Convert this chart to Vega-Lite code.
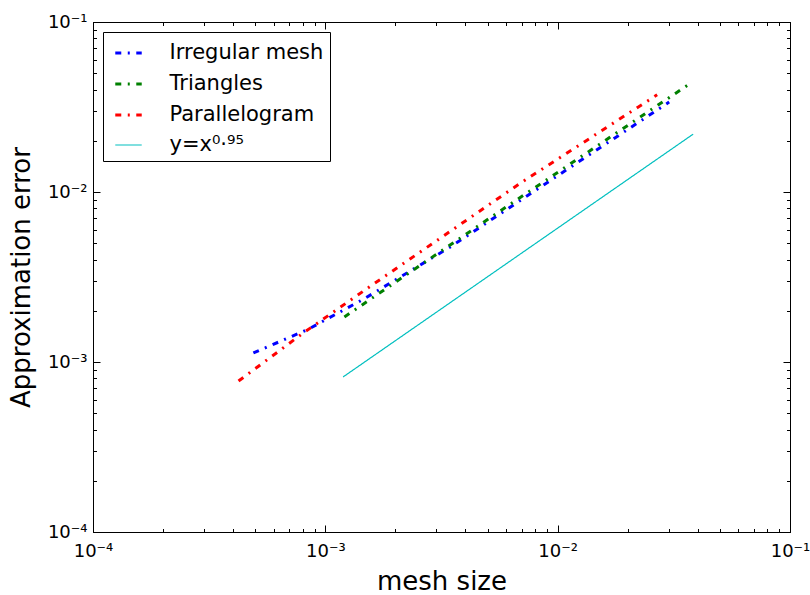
{
  "$schema": "https://vega.github.io/schema/vega-lite/v6.json",
  "width": 697,
  "height": 510,
  "autosize": {"type": "none"},
  "padding": {"left": 93, "top": 22, "right": 20, "bottom": 63},
  "background": "white",
  "config": {
    "view": {"stroke": "black", "strokeWidth": 1},
    "font": "DejaVu Sans",
    "axis": {
      "labelFont": "DejaVu Sans",
      "labelFontSize": 18,
      "labelColor": "black",
      "titleFont": "DejaVu Sans",
      "titleFontSize": 26,
      "titleFontWeight": "normal",
      "titleColor": "black",
      "domainColor": "black",
      "tickColor": "black",
      "grid": false,
      "labelOverlap": false,
      "labelFlush": false,
      "labelBound": false
    },
    "legend": {
      "labelFont": "DejaVu Sans",
      "labelFontSize": 21,
      "labelColor": "black"
    }
  },
  "data": {
    "values": [
      {"series": "Irregular mesh", "h": 0.00049, "err": 0.00113},
      {"series": "Irregular mesh", "h": 0.000845, "err": 0.00156},
      {"series": "Irregular mesh", "h": 0.001442, "err": 0.00232},
      {"series": "Irregular mesh", "h": 0.00345, "err": 0.00475},
      {"series": "Irregular mesh", "h": 0.00937, "err": 0.01177},
      {"series": "Irregular mesh", "h": 0.0302, "err": 0.0338},
      {"series": "Triangles", "h": 0.001208, "err": 0.00184},
      {"series": "Triangles", "h": 0.001866, "err": 0.00276},
      {"series": "Triangles", "h": 0.006, "err": 0.00817},
      {"series": "Triangles", "h": 0.0375, "err": 0.0438},
      {"series": "Parallelogram", "h": 0.000423, "err": 0.000773},
      {"series": "Parallelogram", "h": 0.000803, "err": 0.00148},
      {"series": "Parallelogram", "h": 0.001545, "err": 0.00276},
      {"series": "Parallelogram", "h": 0.00682, "err": 0.01114},
      {"series": "Parallelogram", "h": 0.0268, "err": 0.0373},
      {"series": "y=x⁰·⁹⁵", "h": 0.001193, "err": 0.000817},
      {"series": "y=x⁰·⁹⁵", "h": 0.0383, "err": 0.0219}
    ]
  },
  "layer": [
    {
      "mark": {"type": "line", "clip": true},
      "encoding": {
        "x": {
          "field": "h", "type": "quantitative",
          "scale": {"type": "log", "domain": [0.0001, 0.1], "nice": false},
          "axis": {
            "orient": "bottom",
            "title": "mesh size",
            "values": [0.0001,0.0002,0.0003,0.0004,0.0005,0.0006,0.0007,0.0008,0.0009,0.001,0.002,0.003,0.004,0.005,0.006,0.007,0.008,0.009,0.01,0.02,0.03,0.04,0.05,0.06,0.07,0.08,0.09,0.1],
            "labelExpr": "datum.value == 0.0001 ? '10⁻⁴' : datum.value == 0.001 ? '10⁻³' : datum.value == 0.01 ? '10⁻²' : datum.value == 0.1 ? '10⁻¹' : ''",
            "tickSize": {"condition": {"test": "indexof([0.0001,0.001,0.01,0.1], datum.value) >= 0", "value": -7}, "value": -3.5},
            "labelPadding": 17,
            "titlePadding": 5
          }
        },
        "y": {
          "field": "err", "type": "quantitative",
          "scale": {"type": "log", "domain": [0.0001, 0.1], "nice": false},
          "axis": {
            "orient": "left",
            "title": "Approximation error",
            "values": [0.0001,0.0002,0.0003,0.0004,0.0005,0.0006,0.0007,0.0008,0.0009,0.001,0.002,0.003,0.004,0.005,0.006,0.007,0.008,0.009,0.01,0.02,0.03,0.04,0.05,0.06,0.07,0.08,0.09,0.1],
            "labelExpr": "datum.value == 0.0001 ? '10⁻⁴' : datum.value == 0.001 ? '10⁻³' : datum.value == 0.01 ? '10⁻²' : datum.value == 0.1 ? '10⁻¹' : ''",
            "tickSize": {"condition": {"test": "indexof([0.0001,0.001,0.01,0.1], datum.value) >= 0", "value": -7}, "value": -3.5},
            "labelPadding": 13,
            "titlePadding": 13
          }
        },
        "color": {
          "field": "series", "type": "nominal",
          "scale": {
            "domain": ["Irregular mesh", "Triangles", "Parallelogram", "y=x⁰·⁹⁵"],
            "range": ["#0000ff", "#008000", "#ff0000", "#00bfbf"]
          },
          "legend": {
            "title": null,
            "orient": "top-left",
            "offset": 10,
            "symbolType": "stroke",
            "symbolSize": 700,
            "symbolOffset": 4.5,
            "labelOffset": 26,
            "rowPadding": 6,
            "padding": 6,
            "strokeColor": "black",
            "fillColor": "white",
            "cornerRadius": 0
          }
        },
        "strokeDash": {
          "field": "series", "type": "nominal",
          "scale": {
            "domain": ["Irregular mesh", "Triangles", "Parallelogram", "y=x⁰·⁹⁵"],
            "range": [[6, 6.5, 2, 6.5], [6, 6.5, 2, 6.5], [6, 6.5, 2, 6.5], [1, 0]]
          }
        },
        "strokeWidth": {
          "field": "series", "type": "nominal",
          "scale": {
            "type": "ordinal",
            "domain": ["Irregular mesh", "Triangles", "Parallelogram", "y=x⁰·⁹⁵"],
            "range": [3, 3, 3, 1.2]
          }
        }
      }
    },
    {
      "mark": {"type": "line", "opacity": 0},
      "encoding": {
        "x": {
          "field": "h", "type": "quantitative",
          "axis": {
            "orient": "top",
            "title": null,
            "labels": false,
            "values": [0.0001,0.0002,0.0003,0.0004,0.0005,0.0006,0.0007,0.0008,0.0009,0.001,0.002,0.003,0.004,0.005,0.006,0.007,0.008,0.009,0.01,0.02,0.03,0.04,0.05,0.06,0.07,0.08,0.09,0.1],
            "tickSize": {"condition": {"test": "indexof([0.0001,0.001,0.01,0.1], datum.value) >= 0", "value": -7}, "value": -3.5}
          }
        },
        "y": {
          "field": "err", "type": "quantitative",
          "axis": {
            "orient": "right",
            "title": null,
            "labels": false,
            "values": [0.0001,0.0002,0.0003,0.0004,0.0005,0.0006,0.0007,0.0008,0.0009,0.001,0.002,0.003,0.004,0.005,0.006,0.007,0.008,0.009,0.01,0.02,0.03,0.04,0.05,0.06,0.07,0.08,0.09,0.1],
            "tickSize": {"condition": {"test": "indexof([0.0001,0.001,0.01,0.1], datum.value) >= 0", "value": -7}, "value": -3.5}
          }
        },
        "detail": {"field": "series", "type": "nominal"}
      }
    }
  ],
  "resolve": {"axis": {"x": "independent", "y": "independent"}}
}
